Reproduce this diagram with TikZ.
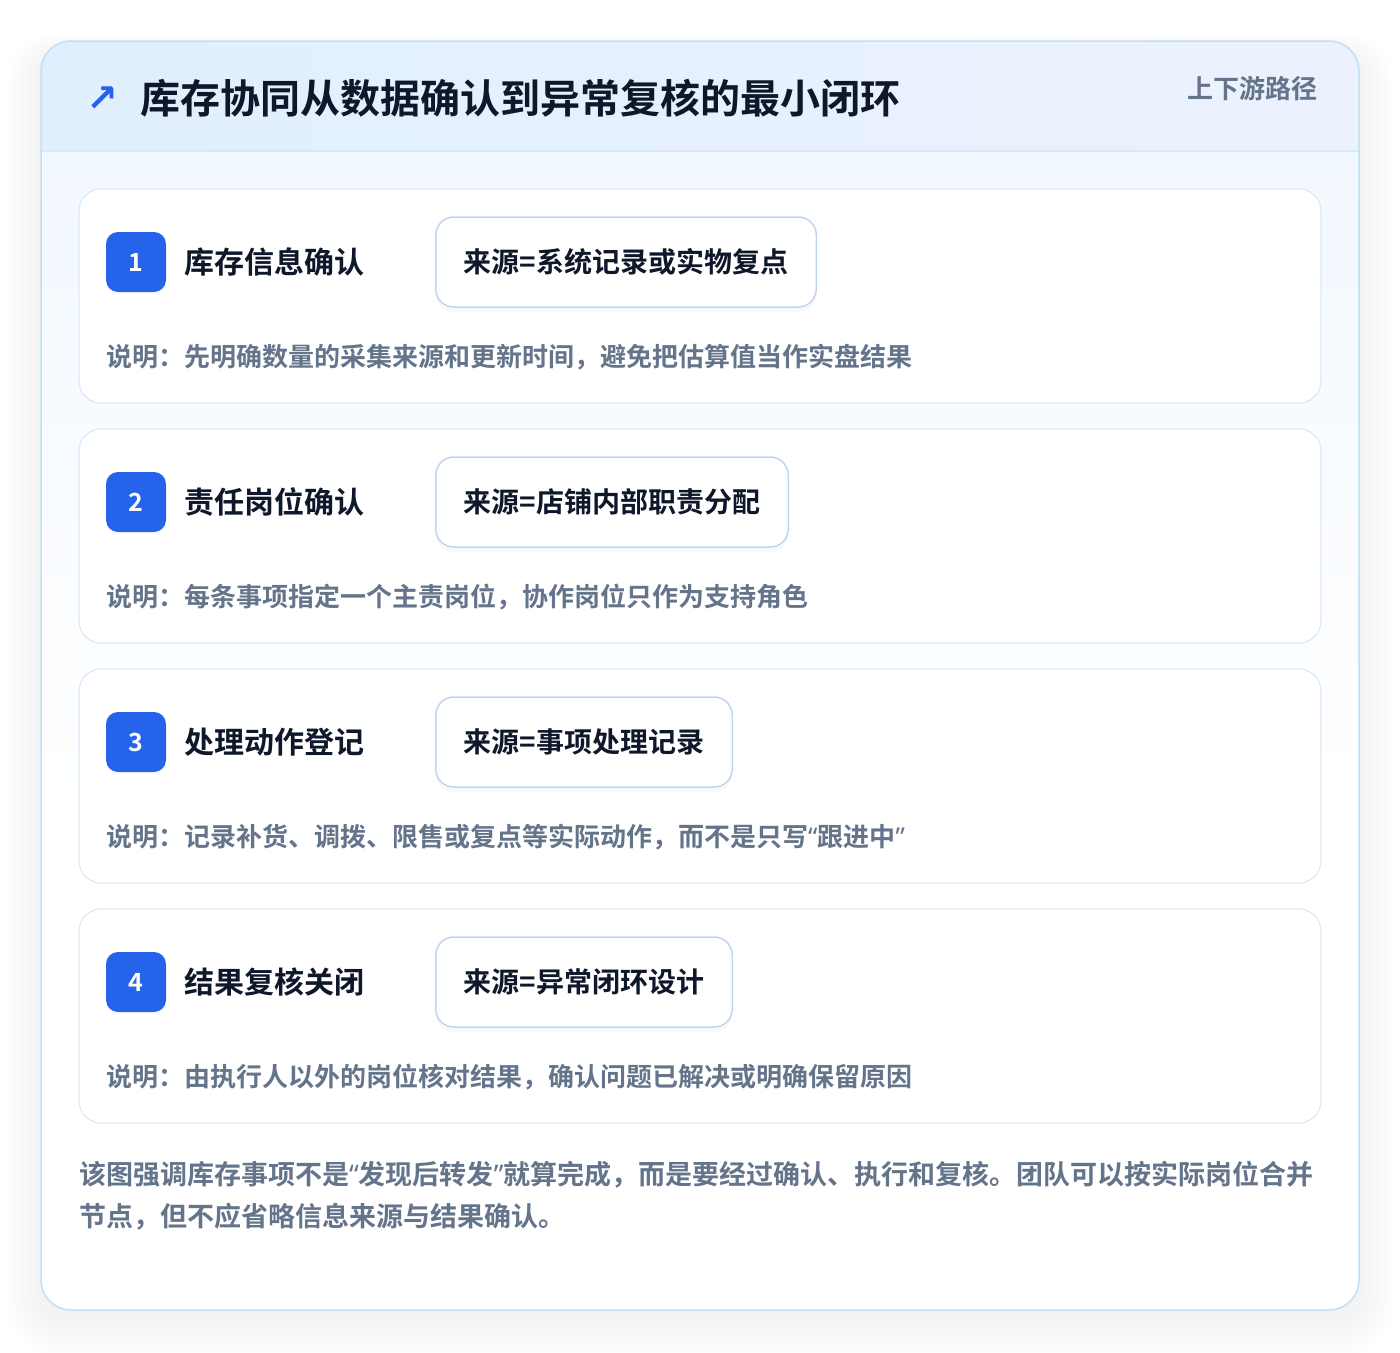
\documentclass[tikz,border=0pt]{standalone}
\usepackage{fontspec}
\setmainfont{Noto Sans CJK SC}[BoldFont={* Bold}]
\newfontfamily\symfont{DejaVu Sans}
\newfontfamily\quotefont{Noto Sans}
\newcommand{\qopen}{{\quotefont“}}
\newcommand{\qclose}{{\quotefont”}}
\usetikzlibrary{positioning,shadows}

\definecolor{inkdark}{HTML}{0F172A}
\definecolor{inkgray}{HTML}{64748B}
\definecolor{accent}{HTML}{2563EB}
\definecolor{frameblue}{HTML}{BFE1F6}
\definecolor{cardline}{HTML}{DCEAF8}
\definecolor{srcline}{HTML}{BFD6F2}
\definecolor{headleft}{HTML}{E0EFFD}
\definecolor{headright}{HTML}{ECF2FD}
\definecolor{headrule}{HTML}{D6E8FA}
\definecolor{bodytop}{HTML}{F2F8FF}

\tikzset{
  stepcard/.style={draw=cardline, line width=1.2pt, fill=white, rounded corners=22pt},
  badge/.style={fill=accent, rounded corners=12pt, minimum size=60pt, inner sep=0pt,
    text=white, font=\bfseries\fontsize{25}{30}\selectfont},
  steptitle/.style={anchor=west, inner sep=0pt, text=inkdark, font=\bfseries\fontsize{30}{36}\selectfont},
  srcbox/.style={draw=srcline, line width=1.5pt, fill=white, rounded corners=18pt,
    minimum height=90pt, inner xsep=28pt, anchor=west, text=inkdark,
    font=\bfseries\fontsize{28}{34}\selectfont,
    drop shadow={opacity=0.05, shadow xshift=0pt, shadow yshift=-5pt}},
  stepnote/.style={anchor=west, inner sep=0pt, text=inkgray, font=\bfseries\fontsize{26}{30}\selectfont},
  footline/.style={anchor=west, inner sep=0pt, text=inkgray, font=\bfseries\fontsize{27}{32}\selectfont},
}

\begin{document}
\begin{tikzpicture}[x=1pt,y=-1pt]
  \useasboundingbox (0,0) rectangle (1400,1352);
  \fill[white] (0,0) rectangle (1400,1352);

  % soft shadow round the card
  \foreach \i in {1,...,12}
    \fill[black, opacity=0.0045, rounded corners=30pt+\i*2pt]
      (41-\i*3,41-\i*1.5+10) rectangle (1359+\i*3,1310+\i*3+10);

  % card, header and body
  \fill[white, rounded corners=30pt] (41,41) rectangle (1359,1310);
  \begin{scope}
    \clip[rounded corners=30pt] (41,41) rectangle (1359,1310);
    \shade[top color=bodytop, bottom color=white] (41,151) rectangle (1359,800);
    \shade[left color=headleft, right color=headright] (41,41) rectangle (1359,151);
    \draw[headrule, line width=1.2pt] (41,151) -- (1359,151);
  \end{scope}
  \draw[frameblue, line width=1.5pt, rounded corners=30pt] (41,41) rectangle (1359,1310);

  \node[text=accent, font=\symfont\bfseries\fontsize{38}{44}\selectfont] (arrow) at (102,99) {↗};
  \node[anchor=west, inner sep=0pt, text=inkdark, font=\bfseries\fontsize{40}{48}\selectfont]
    (heading) at (140,98) {库存协同从数据确认到异常复核的最小闭环};
  \node[anchor=east, inner sep=0pt, text=inkgray, font=\bfseries\fontsize{26}{30}\selectfont]
    (tag) at (1318,89) {上下游路径};

  % four steps
  \foreach \title/\src/\note [count=\k] in {
      库存信息确认/来源=系统记录或实物复点/说明：先明确数量的采集来源和更新时间，避免把估算值当作实盘结果,
      责任岗位确认/来源=店铺内部职责分配/说明：每条事项指定一个主责岗位，协作岗位只作为支持角色,
      处理动作登记/来源=事项处理记录/说明：记录补货、调拨、限售或复点等实际动作，而不是只写\qopen 跟进中\qclose,
      结果复核关闭/来源=异常闭环设计/说明：由执行人以外的岗位核对结果，确认问题已解决或明确保留原因} {
    \pgfmathsetmacro{\off}{(\k-1)*240}
    \draw[stepcard] (79,189+\off) rectangle (1321,403+\off);
    \node[badge] (badge\k) at (136,262+\off) {\k};
    \node[steptitle, right=18pt of badge\k] (title\k) {\title};
    \node[srcbox] (src\k) at (435,262+\off) {\src};
    \node[stepnote] (note\k) at (106,357+\off) {\note};
  }

  \node[footline] (foot1) at (79,1175) {该图强调库存事项不是\qopen 发现后转发\qclose 就算完成，而是要经过确认、执行和复核。团队可以按实际岗位合并};
  \node[footline] (foot2) at (79,1217) {节点，但不应省略信息来源与结果确认。};
\end{tikzpicture}
\end{document}
